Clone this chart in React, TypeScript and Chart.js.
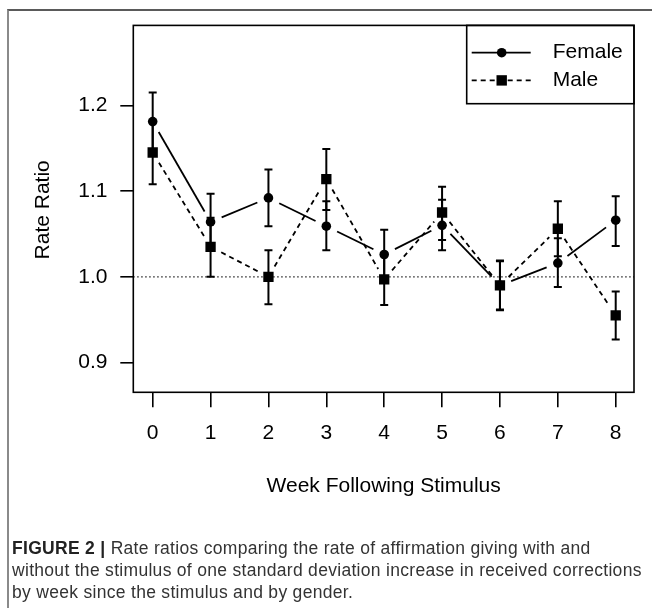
import React, { useEffect, useRef } from "react";
import { Chart, registerables } from "chart.js";

Chart.register(...registerables);

// ---- data ----
const weeks = [0, 1, 2, 3, 4, 5, 6, 7, 8];
const femaleRR = [1.181, 1.064, 1.092, 1.059, 1.026, 1.060, 0.990, 1.016, 1.066];
const femaleLo = [1.147, 1.031, 1.059, 1.031, 0.997, 1.031, 0.962, 0.988, 1.036];
const femaleHi = [1.215, 1.097, 1.125, 1.088, 1.055, 1.090, 1.019, 1.045, 1.094];
const maleRR = [1.145, 1.035, 1.000, 1.114, 0.997, 1.075, 0.990, 1.056, 0.955];
const maleLo = [1.108, 1.000, 0.968, 1.078, 0.967, 1.043, 0.961, 1.024, 0.927];
const maleHi = [1.181, 1.069, 1.031, 1.149, 1.027, 1.105, 1.018, 1.088, 0.983];
const xTicks = [0, 1, 2, 3, 4, 5, 6, 7, 8];
const yTicks = [0.9, 1.0, 1.1, 1.2];
const refValue = 1.0;
const seriesNames = ["Female", "Male"];
const xTitle = "Week Following Stimulus";
const yTitle = "Rate Ratio";
const captionBold = "FIGURE 2 |";
const captionLines = [
  " Rate ratios comparing the rate of affirmation giving with and",
  "without the stimulus of one standard deviation increase in received corrections",
  "by week since the stimulus and by gender.",
];

const FONT = '"Liberation Sans", Arial, Helvetica, sans-serif';

export default function App() {
  const ref = useRef<HTMLCanvasElement>(null);

  useEffect(() => {
    const canvas = ref.current;
    if (!canvas) return;
    const series = [
      { name: seriesNames[0], rr: femaleRR, lo: femaleLo, hi: femaleHi, dash: [] as number[], style: "circle", radius: 4.8 },
      { name: seriesNames[1], rr: maleRR, lo: maleLo, hi: maleHi, dash: [5, 4], style: "rect", radius: 7.3 },
    ];
    const GAP = 12;

    const drawMarker = (ctx: CanvasRenderingContext2D, style: string, cx: number, cy: number) => {
      ctx.fillStyle = "#000";
      if (style === "circle") {
        ctx.beginPath();
        ctx.arc(cx, cy, 4.8, 0, Math.PI * 2);
        ctx.fill();
      } else {
        ctx.fillRect(cx - 5.2, cy - 5.2, 10.4, 10.4);
      }
    };

    const plugin = {
      id: "rplot",
      beforeDatasetsDraw(chart: any) {
        const { ctx, chartArea: a, scales } = chart;
        const x = scales.x, y = scales.y;
        ctx.save();
        ctx.beginPath();
        ctx.rect(a.left, a.top, a.right - a.left, a.bottom - a.top);
        ctx.clip();
        // reference dotted line
        ctx.strokeStyle = "#000";
        ctx.lineWidth = 1.3;
        ctx.setLineDash([1.3, 2.7]);
        const yr = y.getPixelForValue(refValue);
        ctx.beginPath();
        ctx.moveTo(a.left, yr);
        ctx.lineTo(a.right, yr);
        ctx.stroke();
        // connecting lines with gaps (type = "b")
        series.forEach((s) => {
          ctx.setLineDash(s.dash);
          ctx.lineWidth = 1.8;
          for (let i = 0; i < weeks.length - 1; i++) {
            const x0 = x.getPixelForValue(weeks[i]);
            const y0 = y.getPixelForValue(s.rr[i]);
            const x1 = x.getPixelForValue(weeks[i + 1]);
            const y1 = y.getPixelForValue(s.rr[i + 1]);
            const dx = x1 - x0, dy = y1 - y0;
            const d = Math.hypot(dx, dy);
            if (d <= 2 * GAP) continue;
            const ux = dx / d, uy = dy / d;
            ctx.beginPath();
            ctx.moveTo(x0 + ux * GAP, y0 + uy * GAP);
            ctx.lineTo(x1 - ux * GAP, y1 - uy * GAP);
            ctx.stroke();
          }
        });
        // error bars
        ctx.setLineDash([]);
        ctx.lineWidth = 2;
        series.forEach((s) => {
          for (let i = 0; i < weeks.length; i++) {
            const xp = x.getPixelForValue(weeks[i]);
            const yl = y.getPixelForValue(s.lo[i]);
            const yh = y.getPixelForValue(s.hi[i]);
            ctx.beginPath();
            ctx.moveTo(xp, yl);
            ctx.lineTo(xp, yh);
            ctx.moveTo(xp - 4, yl);
            ctx.lineTo(xp + 4, yl);
            ctx.moveTo(xp - 4, yh);
            ctx.lineTo(xp + 4, yh);
            ctx.stroke();
          }
        });
        ctx.restore();
      },
      afterDraw(chart: any) {
        const { ctx, chartArea: a } = chart;
        ctx.save();
        // plot box
        ctx.strokeStyle = "#000";
        ctx.lineWidth = 1.6;
        ctx.setLineDash([]);
        ctx.strokeRect(a.left, a.top, a.right - a.left, a.bottom - a.top);
        // axis titles
        ctx.fillStyle = "#000";
        ctx.font = `21px ${FONT}`;
        ctx.textAlign = "center";
        ctx.textBaseline = "middle";
        ctx.fillText(xTitle, (a.left + a.right) / 2, a.bottom + 94);
        ctx.save();
        ctx.translate(43.5, (a.top + a.bottom) / 2 + 1);
        ctx.rotate(-Math.PI / 2);
        ctx.fillText(yTitle, 0, 0);
        ctx.restore();
        // legend
        const lx = a.right - 167.3;
        const ly = a.top;
        ctx.lineWidth = 1.6;
        ctx.strokeRect(lx, ly, a.right - lx, 78.3);
        series.forEach((s, k) => {
          const ry = ly + 27.3 + k * 27.7;
          ctx.lineWidth = 1.8;
          ctx.setLineDash(s.dash);
          ctx.beginPath();
          ctx.moveTo(lx + 5, ry);
          ctx.lineTo(lx + 64, ry);
          ctx.stroke();
          ctx.setLineDash([]);
          drawMarker(ctx, s.style, lx + 35, ry);
          ctx.fillStyle = "#000";
          ctx.textAlign = "left";
          ctx.textBaseline = "middle";
          ctx.fillText(s.name, lx + 86, ry);
        });
        ctx.restore();
      },
    };

    const chart = new Chart(canvas, {
      type: "line",
      data: {
        datasets: series.map((s) => ({
          label: s.name,
          data: weeks.map((w, i) => ({ x: w, y: s.rr[i] })),
          showLine: false,
          pointStyle: s.style as any,
          pointRadius: s.radius,
          pointHoverRadius: s.radius,
          pointBackgroundColor: "#000",
          pointBorderColor: "#000",
          pointBorderWidth: 0,
        })),
      },
      options: {
        responsive: false,
        animation: false,
        devicePixelRatio: 1,
        events: [],
        layout: { padding: { left: 0, top: 25, right: 18, bottom: 0 } },
        plugins: { legend: { display: false }, tooltip: { enabled: false } },
        scales: {
          x: {
            type: "linear",
            min: -0.335,
            max: 8.316,
            afterBuildTicks: (sc: any) => {
              sc.ticks = xTicks.map((v) => ({ value: v }));
            },
            afterFit: (sc: any) => {
              sc.height = 608 - 392.3;
            },
            grid: { drawOnChartArea: false, drawTicks: true, tickLength: 15, color: "#000", lineWidth: 1.6 },
            border: { display: false },
            ticks: {
              font: { family: FONT, size: 21 },
              color: "#000",
              padding: 13,
              maxRotation: 0,
              autoSkip: false,
              callback: (v: any) => String(v),
            },
          },
          y: {
            type: "linear",
            min: 0.8653,
            max: 1.2932,
            afterBuildTicks: (sc: any) => {
              sc.ticks = yTicks.map((v) => ({ value: v }));
            },
            afterFit: (sc: any) => {
              sc.width = 133.3;
            },
            grid: { drawOnChartArea: false, drawTicks: true, tickLength: 13, color: "#000", lineWidth: 1.6 },
            border: { display: false },
            ticks: {
              font: { family: FONT, size: 21 },
              color: "#000",
              padding: 12.8,
              autoSkip: false,
              callback: (v: any) => Number(v).toFixed(1),
            },
          },
        },
      } as any,
      plugins: [plugin],
    });
    return () => chart.destroy();
  }, []);

  return (
    <div style={{ position: "absolute", left: 0, top: 0, width: 652, height: 608, overflow: "hidden", background: "#fff" }}>
      <div
        style={{
          position: "absolute",
          left: 6.5,
          top: 9,
          width: 800,
          height: 800,
          borderTop: "2px solid #5a5a5a",
          borderLeft: "2px solid #8a8a8a",
        }}
      />
      <canvas ref={ref} width={652} height={608} style={{ position: "absolute", left: 0, top: 0, display: "block" }} />
      <div
        style={{
          position: "absolute",
          left: 12,
          top: 537,
          fontFamily: FONT,
          fontSize: 17.5,
          lineHeight: "22px",
          color: "#333",
          letterSpacing: 0.3,
          whiteSpace: "nowrap",
        }}
      >
        <div>
          <span style={{ fontWeight: "bold", color: "#222" }}>{captionBold}</span>
          {captionLines[0]}
        </div>
        <div>{captionLines[1]}</div>
        <div>{captionLines[2]}</div>
      </div>
    </div>
  );
}
